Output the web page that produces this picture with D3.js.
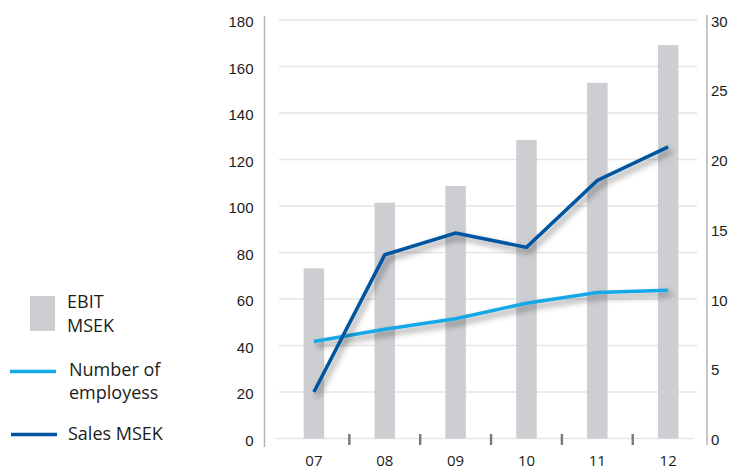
<!DOCTYPE html>
<html>
<head>
<meta charset="utf-8">
<script src="https://cdn.jsdelivr.net/npm/d3@7"></script>
<style>
  html, body { margin: 0; padding: 0; background: #fff; }
  svg { display: block; font-family: "Open Sans", "Noto Sans", sans-serif; }
</style>
</head>
<body>
<svg id="chart" width="733" height="470"></svg>
<script>
// Yearly figures
const years = ["07", "08", "09", "10", "11", "12"];
const ebit = [12.2, 16.9, 18.1, 21.4, 25.5, 28.2];          // right axis, MSEK
const sales = [20, 79, 88.4, 82.2, 111, 125.4];              // left axis, MSEK
const employees = [41.7, 47, 51.5, 58.2, 62.8, 63.8];        // left axis
const leftTicks = [0, 20, 40, 60, 80, 100, 120, 140, 160, 180];
const rightTicks = [0, 5, 10, 15, 20, 25, 30];

const colors = { bar: "#cdced1", sales: "#0054a0", employees: "#14a8e6", grid: "#e5e5e5", axis: "#b5b5b5", text: "#1c1c1c" };

const svg = d3.select("#chart");

const x = d3.scaleBand().domain(years).range([278.5, 703.6]).paddingInner(0).paddingOuter(0);
const yLeft = d3.scaleLinear().domain([0, 180]).range([438.5, 20]);
const yRight = d3.scaleLinear().domain([0, 30]).range([438.5, 20]);

// Soft shadow under the lines
const defs = svg.append("defs");
const f = defs.append("filter").attr("id", "shadow")
  .attr("x", "-10%").attr("y", "-10%").attr("width", "130%").attr("height", "140%");
f.append("feDropShadow").attr("dx", 3).attr("dy", 4).attr("stdDeviation", 3.2)
  .attr("flood-color", "#000").attr("flood-opacity", 0.45);

// Gridlines
svg.append("g").selectAll("line").data(leftTicks.slice(1)).join("line")
  .attr("x1", 279).attr("x2", 697)
  .attr("y1", d => yLeft(d)).attr("y2", d => yLeft(d))
  .attr("stroke", colors.grid).attr("stroke-width", 1.5);

// Baseline
svg.append("line").attr("x1", 276).attr("x2", 693)
  .attr("y1", yLeft(0)).attr("y2", yLeft(0))
  .attr("stroke", colors.grid).attr("stroke-width", 1.5);

// Left axis
const leftAxis = d3.axisLeft(yLeft).tickValues(leftTicks).tickSize(0).tickPadding(11);
const gl = svg.append("g").attr("transform", "translate(264.5,0)").call(leftAxis);
gl.select(".domain").remove();
gl.append("line").attr("y1", 16).attr("y2", 447).attr("stroke", colors.axis).attr("stroke-width", 1.5);
gl.selectAll(".tick text").attr("font-size", 15).attr("fill", colors.text).attr("dy", "0.45em");

// Right axis
const rightAxis = d3.axisRight(yRight).tickValues(rightTicks).tickSize(0).tickPadding(4);
const gr = svg.append("g").attr("transform", "translate(707,0)").call(rightAxis);
gr.select(".domain").remove();
gr.append("line").attr("y1", 15).attr("y2", 445).attr("stroke", colors.axis).attr("stroke-width", 1.5);
gr.selectAll(".tick text").attr("font-size", 15).attr("fill", colors.text).attr("dy", "0.4em");

// EBIT bars
const bw = 20.5;
svg.append("g").selectAll("rect").data(ebit).join("rect")
  .attr("x", (d, i) => x(years[i]) + x.bandwidth() / 2 - bw / 2)
  .attr("width", bw)
  .attr("y", d => yRight(d))
  .attr("height", d => yRight(0) - yRight(d))
  .attr("fill", colors.bar);

// Category separators on the baseline
svg.append("g").selectAll("rect").data(years.slice(1)).join("rect")
  .attr("x", d => x(d) - 1.2).attr("width", 2.4)
  .attr("y", 434).attr("height", 11)
  .attr("fill", "#7a7a7a");

// Year labels
svg.append("g").selectAll("text").data(years).join("text")
  .attr("x", d => x(d) + x.bandwidth() / 2)
  .attr("y", 465.5)
  .attr("text-anchor", "middle")
  .attr("font-size", 15).attr("fill", colors.text)
  .text(d => d);

// Lines
const line = d3.line().x((d, i) => x(years[i]) + x.bandwidth() / 2).y(d => yLeft(d));
svg.append("path").datum(employees).attr("d", line)
  .attr("fill", "none").attr("stroke", colors.employees).attr("stroke-width", 3.5)
  .attr("filter", "url(#shadow)");
svg.append("path").datum(sales).attr("d", line)
  .attr("fill", "none").attr("stroke", colors.sales).attr("stroke-width", 3.5)
  .attr("filter", "url(#shadow)");

// Legend
const lg = svg.append("g").attr("font-size", 18).attr("fill", colors.text);
lg.append("rect").attr("x", 30).attr("y", 296).attr("width", 25).attr("height", 35).attr("fill", colors.bar);
lg.append("text").attr("x", 67).attr("y", 308).text("EBIT");
lg.append("text").attr("x", 67).attr("y", 332).text("MSEK");
lg.append("line").attr("x1", 10).attr("x2", 56).attr("y1", 371.5).attr("y2", 371.5)
  .attr("stroke", colors.employees).attr("stroke-width", 3.5);
lg.append("text").attr("x", 69).attr("y", 376).text("Number of");
lg.append("text").attr("x", 69).attr("y", 399).text("employess");
lg.append("line").attr("x1", 11).attr("x2", 57).attr("y1", 434.5).attr("y2", 434.5)
  .attr("stroke", colors.sales).attr("stroke-width", 3.5);
lg.append("text").attr("x", 68).attr("y", 440).text("Sales MSEK");
</script>
</body>
</html>
